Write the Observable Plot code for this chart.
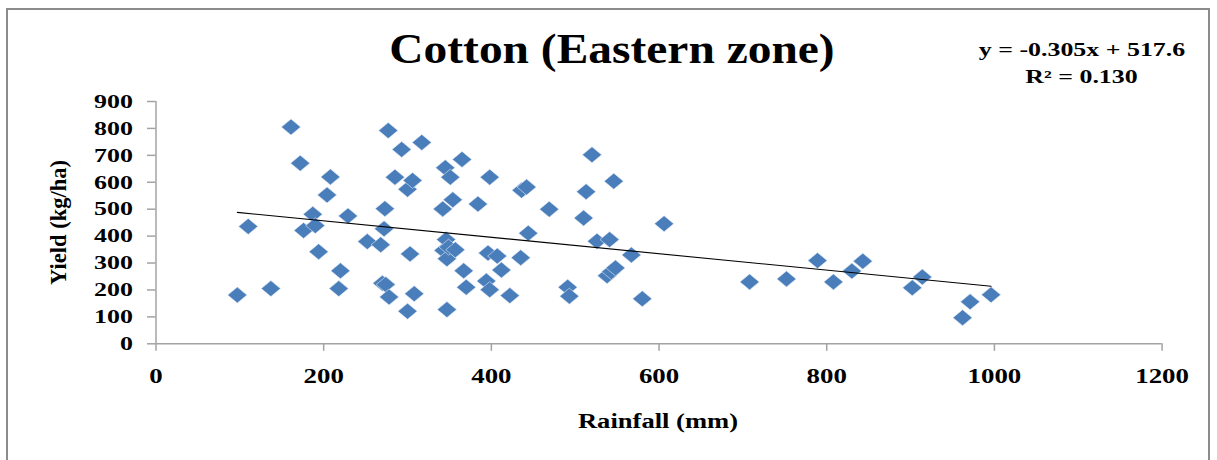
<!DOCTYPE html>
<html>
<head>
<meta charset="utf-8">
<script src="https://cdn.jsdelivr.net/npm/d3@7"></script>
<script src="https://cdn.jsdelivr.net/npm/@observablehq/plot@0.6"></script>
<style>
  html, body { margin: 0; padding: 0; background: #fff; overflow: hidden; }
  #wrap { position: relative; width: 1217px; height: 460px; }
  #frame { position: absolute; left: 6px; top: 8px; width: 1204px; height: 480px; border: 2px solid #8c8c8c; box-sizing: border-box; pointer-events: none; }
  #chart { position: absolute; left: 0; top: 0; }
</style>
</head>
<body>
<div id="wrap"><div id="chart"></div><div id="frame"></div></div>
<script>
// ---- data ----
const rainfall = [97,110,137,161,172,176,187,190,194,204,208,218,220,229,252,268,270,274,272,273,278,277,285,293,300,300,303,306,308,317,342,343,345,346,347,347,349,351,354,357,365,367,370,384,394,396,398,398,407,412,422,435,436,442,444,469,491,493,510,513,520,526,538,541,543,546,548,567,580,606,708,752,789,808,830,843,902,914,962,971,996];
const yieldKgHa = [181,436,205,805,671,421,481,439,342,553,620,205,271,475,380,368,225,220,427,502,174,792,619,722,574,121,334,607,186,748,501,347,654,387,316,127,359,619,535,349,685,271,210,519,233,337,201,619,326,274,179,320,570,582,411,500,210,177,467,565,702,381,253,387,268,604,282,330,167,446,230,241,309,230,270,307,208,248,97,156,182];
const xTicks = [0, 200, 400, 600, 800, 1000, 1200];
const yTicks = [0, 100, 200, 300, 400, 500, 600, 700, 800, 900];
const slope = -0.305;
const intercept = 517.6;
const titleText = ["Cotton (Eastern zone)"];
const equationText = ["y = -0.305x + 517.6"];
const r2Text = ["R\u00B2 = 0.130"];
const xLabel = ["Rainfall (mm)"];
const yLabel = ["Yield (kg/ha)"];

const points = rainfall.map((x, i) => ({x, y: yieldKgHa[i]}));
const xExt = d3.extent(rainfall);
const trend = xExt.map(x => ({x, y: slope * x + intercept}));

// wide diamond marker (Excel style)
const wideDiamond = {
  draw(context, size) {
    const r = Math.sqrt(size / Math.PI);
    context.moveTo(-r * 1.2, 0);
    context.lineTo(0, -r);
    context.lineTo(r * 1.2, 0);
    context.lineTo(0, r);
    context.closePath();
  }
};

const W = 1217, H = 460;
const mL = 155.5, mR = 55.4, mT = 101, mB = 116.7;
const axisColor = "#a3a3a3";
const plain = d => String(d);

const chart = Plot.plot({
  width: W,
  height: H,
  marginLeft: mL,
  marginRight: mR,
  marginTop: mT,
  marginBottom: mB,
  style: {fontFamily: "'Liberation Serif', 'Times New Roman', serif", fontWeight: "bold", color: "#000", background: "transparent", overflow: "visible"},
  x: {domain: [0, 1200]},
  y: {domain: [0, 900]},
  marks: [
    Plot.ruleY([0], {stroke: axisColor, strokeWidth: 1.5}),
    Plot.ruleX([0], {stroke: axisColor, strokeWidth: 1.5}),
    Plot.axisX(xTicks, {tickSize: 7.5, tickPadding: 17, tickFormat: plain, stroke: axisColor, strokeWidth: 1.5, fontSize: 21, label: null, className: "xtl"}),
    Plot.axisY(yTicks, {tickSize: 8.5, tickPadding: 14.5, tickFormat: plain, stroke: axisColor, strokeWidth: 1.5, fontSize: 19.5, label: null, className: "ytl"}),
    Plot.dot(points, {x: "x", y: "y", symbol: wideDiamond, r: 8, fill: "#4a7ebb", stroke: "#dfe8f4", strokeWidth: 0.6}),
    Plot.line(trend, {x: "x", y: "y", stroke: "#000", strokeWidth: 1.1}),
    Plot.text(titleText, {frameAnchor: "top-left", dx: 611.5 - mL, dy: 49.5 - mT, fontSize: 42, textAnchor: "middle", lineAnchor: "middle", fill: "#000", className: "ttl"}),
    Plot.text(equationText, {frameAnchor: "top-left", dx: 1081.5 - mL, dy: 49.5 - mT, fontSize: 18.5, textAnchor: "middle", lineAnchor: "middle", fill: "#000", className: "eq"}),
    Plot.text(r2Text, {frameAnchor: "top-left", dx: 1081 - mL, dy: 76.5 - mT, fontSize: 18.5, textAnchor: "middle", lineAnchor: "middle", fill: "#000", className: "eq"}),
    Plot.text(xLabel, {frameAnchor: "top-left", dx: 657.5 - mL, dy: 421 - mT, fontSize: 20, textAnchor: "middle", lineAnchor: "middle", fill: "#000", className: "xlab"}),
    Plot.text(yLabel, {frameAnchor: "top-left", dx: 58 - mL, dy: 222 - mT, fontSize: 22.5, rotate: -90, textAnchor: "middle", lineAnchor: "middle", fill: "#000", className: "ylab"})
  ]
});

document.getElementById("chart").appendChild(chart);

// stretch text horizontally to match the (wide) rendering of the reference
function stretch(selector, sx, sy) {
  chart.querySelectorAll(selector).forEach(t => {
    const tr = t.getAttribute("transform") || "";
    t.setAttribute("transform", `${tr} scale(${sx},${sy})`);
  });
}
stretch(".xtl text", 1.28, 1);
stretch(".ytl text", 1.33, 1);
stretch(".ttl text", 1.13, 1);
stretch(".eq text", 1.4, 1);
stretch(".xlab text", 1.33, 1);
</script>
</body>
</html>
